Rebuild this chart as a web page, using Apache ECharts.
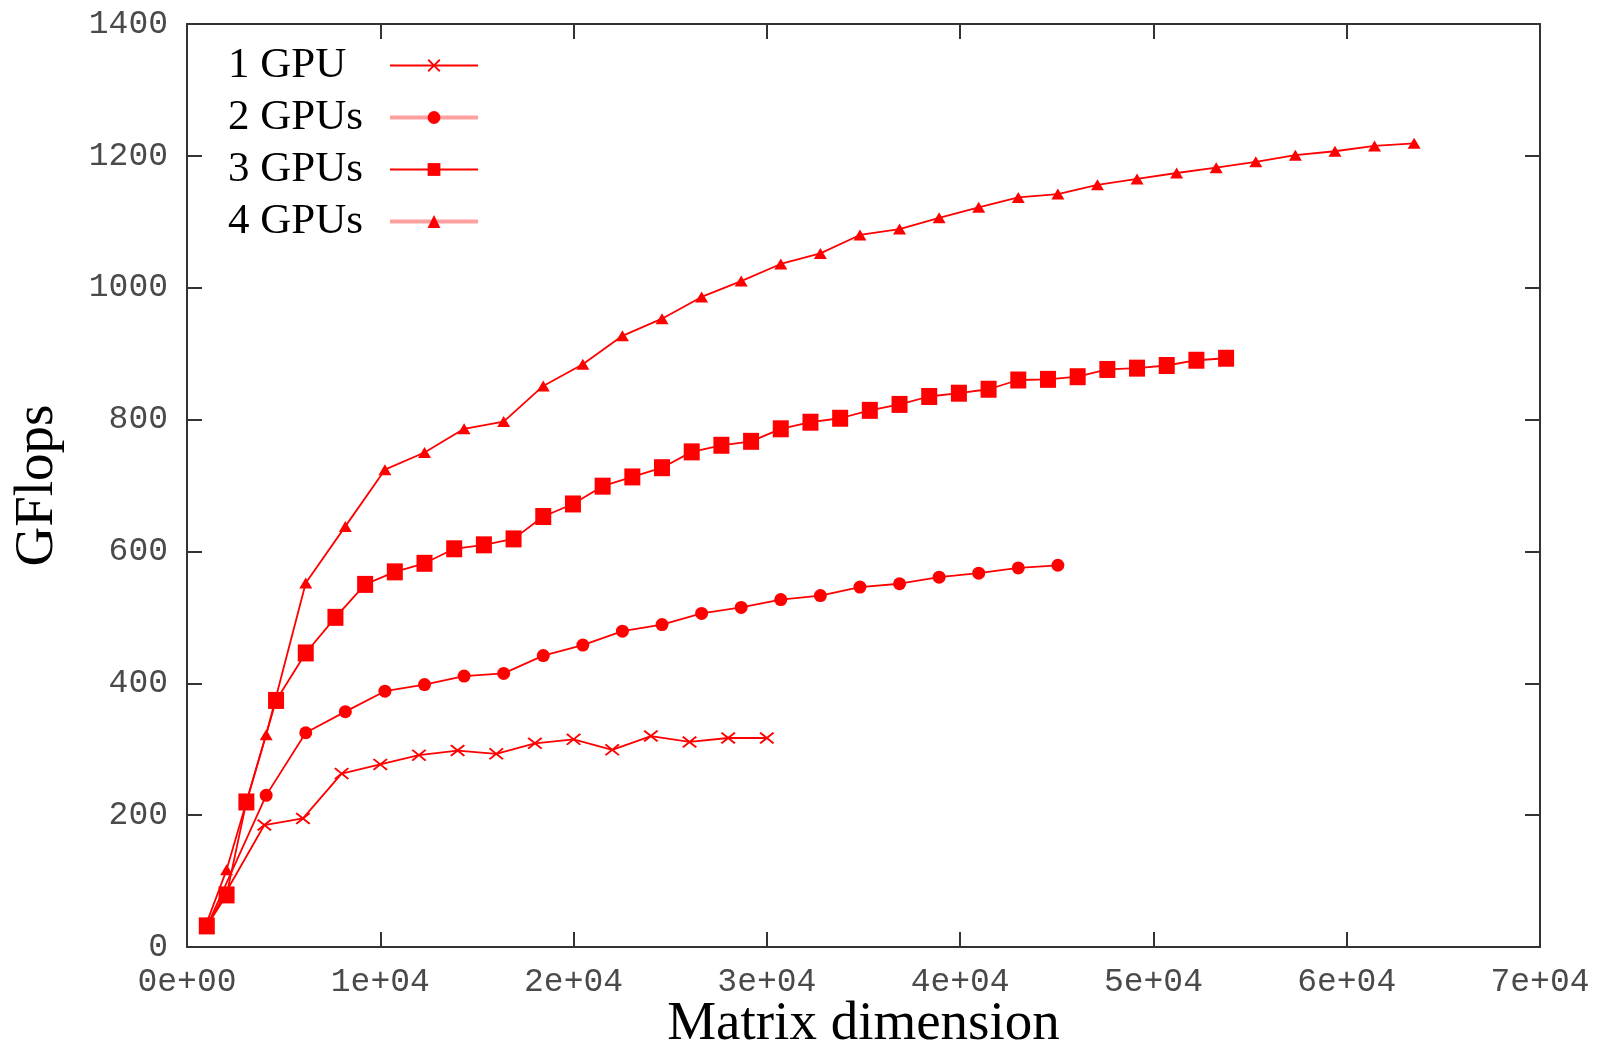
<!DOCTYPE html>
<html>
<head>
<meta charset="utf-8">
<title>GFlops vs Matrix dimension</title>
<script src="https://cdn.jsdelivr.net/npm/echarts@6/dist/echarts.min.js"></script>
<style>
  html, body { margin: 0; padding: 0; background: #fff; }
  #chart { width: 1598px; height: 1046px; }
</style>
</head>
<body>
<div id="chart"></div>
<script>
// data
var seriesNames = ['1 GPU', '2 GPUs', '3 GPUs', '4 GPUs'];

var dims1 = [1000, 4000, 6000, 8000, 10000, 12000, 14000, 16000, 18000, 20000, 22000, 24000, 26000, 28000, 30000];
var gflops1 = [31, 185, 195, 263, 277, 291, 298, 293, 309, 315, 299, 320, 311, 317, 317];

var dims2 = [1024, 4096, 6144, 8192, 10240, 12288, 14336, 16384, 18432, 20480, 22528, 24576,
  26624, 28672, 30720, 32768, 34816, 36864, 38912, 40960, 43008, 45056];
var gflops2 = [31, 230, 325, 357, 388, 398, 411, 415, 442, 458, 479, 489,
  506, 515, 527, 533, 546, 551, 561, 567, 575, 579];

var dims3 = [1024, 2048, 3072, 4608, 6144, 7680, 9216, 10752, 12288, 13824, 15360, 16896,
  18432, 19968, 21504, 23040, 24576, 26112, 27648, 29184, 30720, 32256, 33792, 35328,
  36864, 38400, 39936, 41472, 43008, 44544, 46080, 47616, 49152, 50688, 52224, 53760];
var gflops3 = [32, 79, 220, 374, 446, 500, 550, 569, 582, 604, 610, 619,
  653, 672, 699, 713, 727, 751, 761, 767, 786, 796, 802, 814,
  823, 835, 840, 846, 860, 861, 865, 876, 878, 882, 890, 893];

var dims4 = [1024, 2048, 4096, 6144, 8192, 10240, 12288, 14336, 16384, 18432, 20480, 22528,
  24576, 26624, 28672, 30720, 32768, 34816, 36864, 38912, 40960, 43008, 45056, 47104,
  49152, 51200, 53248, 55296, 57344, 59392, 61440, 63488];
var gflops4 = [37, 117, 322, 552, 638, 724, 750, 786, 797, 851, 884, 927,
  953, 986, 1010, 1036, 1052, 1080, 1089, 1106, 1122, 1137, 1142, 1156,
  1165, 1174, 1182, 1191, 1201, 1207, 1215, 1219];

var xTicks = ['0e+00', '1e+04', '2e+04', '3e+04', '4e+04', '5e+04', '6e+04', '7e+04'];

var RED = '#ff0000';
var serif = '"Liberation Serif", "DejaVu Serif", serif';
var mono = '"Liberation Mono", "DejaVu Sans Mono", monospace';
var crossPath = 'path://M0,1L1,0L5,4L9,0L10,1L6,5L10,9L9,10L5,6L1,10L0,9L4,5Z';

function pairs(xs, ys) {
  return xs.map(function (x, i) { return [x, ys[i]]; });
}

var chart = echarts.init(document.getElementById('chart'), null, { renderer: 'canvas' });

// common axis look (gnuplot style border with inward ticks)
var axisLine = { show: true, onZero: false, lineStyle: { color: '#333', width: 2 } };
var axisTick = { show: true, inside: true, length: 15, lineStyle: { color: '#333', width: 2 } };

var option = {
  animation: false,
  backgroundColor: '#fff',
  grid: { left: 187, right: 58, top: 24, bottom: 99, containLabel: false, outerBoundsMode: 'none' },
  legend: {
    orient: 'vertical',
    left: 228,
    top: 44,
    padding: 0,
    align: 'right',
    itemWidth: 88,
    itemHeight: 16,
    itemGap: 9,
    formatter: '{t|{name}}',
    textStyle: {
      color: '#000',
      fontFamily: serif,
      fontSize: 43,
      rich: { t: { width: 157, align: 'left', fontFamily: serif, fontSize: 43, lineHeight: 44, color: '#000' } }
    },
    data: [
      { name: '1 GPU', lineStyle: { color: RED, width: 2 } },
      { name: '2 GPUs', lineStyle: { color: '#ffa0a0', width: 4 } },
      { name: '3 GPUs', lineStyle: { color: RED, width: 2 } },
      { name: '4 GPUs', lineStyle: { color: '#ffa0a0', width: 4 } }
    ]
  },
  xAxis: [{
    type: 'value',
    position: 'bottom',
    min: 0, max: 70000, interval: 10000,
    name: 'Matrix dimension',
    nameLocation: 'middle',
    nameGap: 50,
    nameMoveOverlap: false,
    nameTextStyle: { fontFamily: serif, fontSize: 55, color: '#000' },
    axisLine: axisLine,
    axisTick: axisTick,
    splitLine: { show: false },
    axisLabel: {
      margin: 19,
      fontFamily: mono, fontSize: 33, color: '#4a4a4a',
      showMinLabel: true, showMaxLabel: true,
      formatter: function (v) { return xTicks[Math.round(v / 10000)]; }
    }
  }, {
    type: 'value',
    position: 'top',
    min: 0, max: 70000, interval: 10000,
    axisLine: axisLine,
    axisTick: axisTick,
    axisLabel: { show: false },
    splitLine: { show: false }
  }],
  yAxis: [{
    type: 'value',
    position: 'left',
    min: 0, max: 1400, interval: 200,
    name: 'GFlops',
    nameLocation: 'middle',
    nameGap: 122,
    nameMoveOverlap: false,
    nameTextStyle: { fontFamily: serif, fontSize: 55, color: '#000' },
    axisLine: axisLine,
    axisTick: axisTick,
    splitLine: { show: false },
    axisLabel: {
      margin: 19,
      fontFamily: mono, fontSize: 33, color: '#4a4a4a',
      showMinLabel: true, showMaxLabel: true,
      formatter: function (v) { return String(v); }
    }
  }, {
    type: 'value',
    position: 'right',
    min: 0, max: 1400, interval: 200,
    axisLine: axisLine,
    axisTick: axisTick,
    axisLabel: { show: false },
    splitLine: { show: false }
  }],
  series: [
    {
      name: seriesNames[0], type: 'line',
      data: pairs(dims1, gflops1),
      symbol: crossPath, symbolSize: [15, 12],
      itemStyle: { color: RED },
      lineStyle: { color: RED, width: 1.8 }
    },
    {
      name: seriesNames[1], type: 'line',
      data: pairs(dims2, gflops2),
      symbol: 'circle', symbolSize: 13,
      itemStyle: { color: RED },
      lineStyle: { color: RED, width: 1.8 }
    },
    {
      name: seriesNames[2], type: 'line',
      data: pairs(dims3, gflops3),
      symbol: 'rect', symbolSize: [16, 17],
      itemStyle: { color: RED },
      lineStyle: { color: RED, width: 1.8 }
    },
    {
      name: seriesNames[3], type: 'line',
      data: pairs(dims4, gflops4),
      symbol: 'triangle', symbolSize: [13, 11],
      itemStyle: { color: RED },
      lineStyle: { color: RED, width: 1.8 }
    }
  ]
};

chart.setOption(option);
</script>
</body>
</html>
